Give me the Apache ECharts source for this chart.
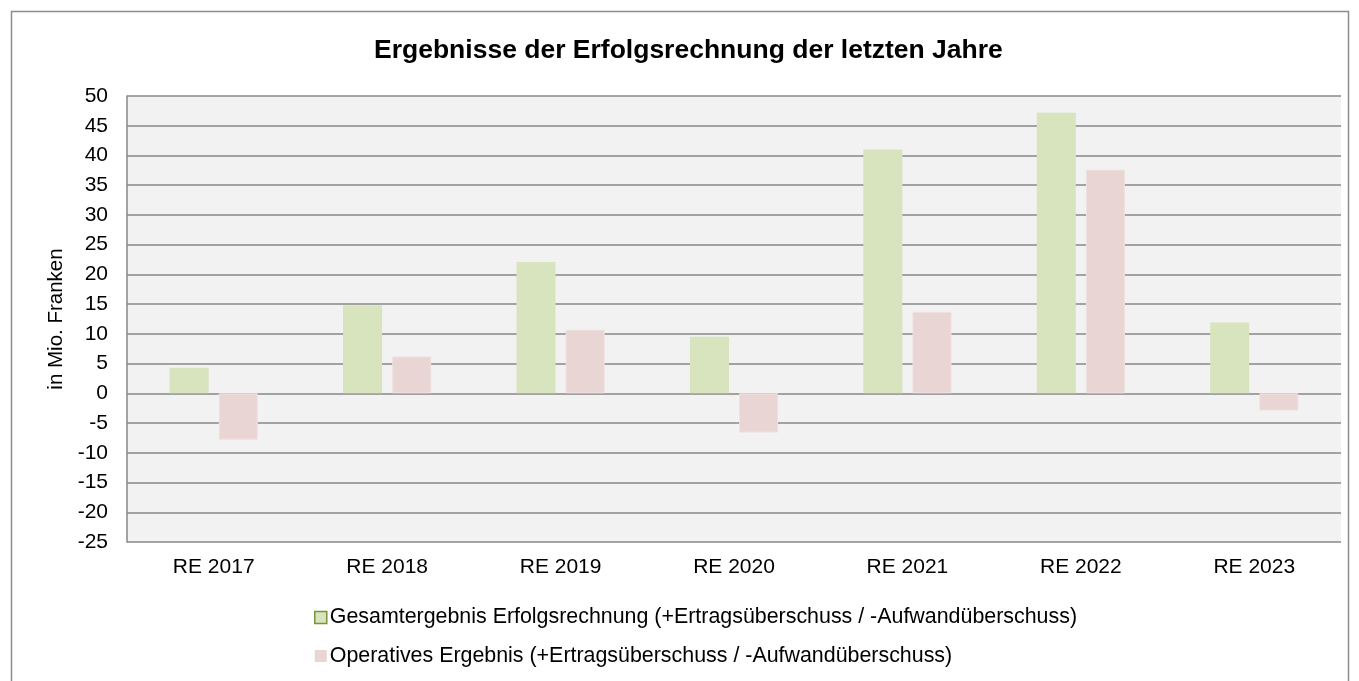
<!DOCTYPE html>
<html>
<head>
<meta charset="utf-8">
<script src="https://cdn.jsdelivr.net/npm/echarts@6/dist/echarts.min.js"></script>
<style>
  html, body { margin: 0; padding: 0; background: #fff; }
  #chart { width: 1359px; height: 681px; }
</style>
</head>
<body>
<div id="chart"></div>
<script>
// Values (Mio. Franken)
const categories = ["RE 2017", "RE 2018", "RE 2019", "RE 2020", "RE 2021", "RE 2022", "RE 2023"];
const gesamtergebnis = [4.3, 14.8, 22.1, 9.5, 41.0, 47.2, 11.9];
const operativesErgebnis = [-7.8, 6.2, 10.7, -6.6, 13.7, 37.6, -2.9];
const seriesNames = [
  "Gesamtergebnis Erfolgsrechnung (+Ertragsüberschuss / -Aufwandüberschuss)",
  "Operatives Ergebnis (+Ertragsüberschuss / -Aufwandüberschuss)",
];

const FONT = "'Liberation Sans', Arial, sans-serif";
const GREEN = "#d7e4bd";
const PINK = "#ead5d5";
const GRID = "#878787";

const chart = echarts.init(document.getElementById("chart"));
chart.setOption({
  backgroundColor: "#fff",
  animation: false,
  title: {
    text: "Ergebnisse der Erfolgsrechnung der letzten Jahre",
    left: 369,
    top: 32,
    textStyle: { fontFamily: FONT, fontSize: 26.5, fontWeight: "bold", color: "#000" },
  },
  graphic: [{
    type: "rect",
    shape: { x: 11.5, y: 11.5, width: 1337, height: 700 },
    style: { fill: null, stroke: "#8c8c8c", lineWidth: 1.5 },
    silent: true,
  }],
  grid: {
    left: 127, right: 18, top: 96, bottom: 139,
    show: true, backgroundColor: "#f2f2f2", borderWidth: 0,
  },
  legend: {
    orient: "vertical",
    left: 309,
    top: 602,
    itemWidth: 12,
    itemHeight: 12,
    itemGap: 17.5,
    icon: "rect",
    textStyle: { fontFamily: FONT, fontSize: 21.4, color: "#000", padding: [0, 0, 0, -2] },
    data: [
      { name: seriesNames[0], itemStyle: { color: GREEN, borderColor: "#77933c", borderWidth: 1.5 } },
      { name: seriesNames[1], itemStyle: { color: PINK, borderWidth: 0 } },
    ],
  },
  xAxis: {
    type: "category",
    data: categories,
    axisLine: { show: false },
    axisTick: { show: false },
    axisLabel: { fontFamily: FONT, fontSize: 21, color: "#000", margin: 15 },
  },
  yAxis: {
    type: "value",
    name: "in Mio. Franken",
    nameLocation: "middle",
    nameGap: 58,
    nameTextStyle: { fontFamily: FONT, fontSize: 20.5, color: "#000" },
    min: -25,
    max: 50,
    interval: 5,
    axisLine: { show: true, lineStyle: { color: GRID, width: 1.5 } },
    axisTick: { show: false },
    axisLabel: { fontFamily: FONT, fontSize: 21, color: "#000", margin: 19 },
    splitLine: { show: true, lineStyle: { color: GRID, width: 1.5 } },
  },
  series: [
    {
      name: seriesNames[0],
      type: "bar",
      data: gesamtergebnis,
      barWidth: 39,
      barGap: "26%",
      itemStyle: { color: GREEN },
    },
    {
      name: seriesNames[1],
      type: "bar",
      data: operativesErgebnis,
      barWidth: 39,
      itemStyle: { color: PINK, borderColor: "#efe0e0", borderWidth: 1 },
    },
  ],
});
</script>
</body>
</html>
